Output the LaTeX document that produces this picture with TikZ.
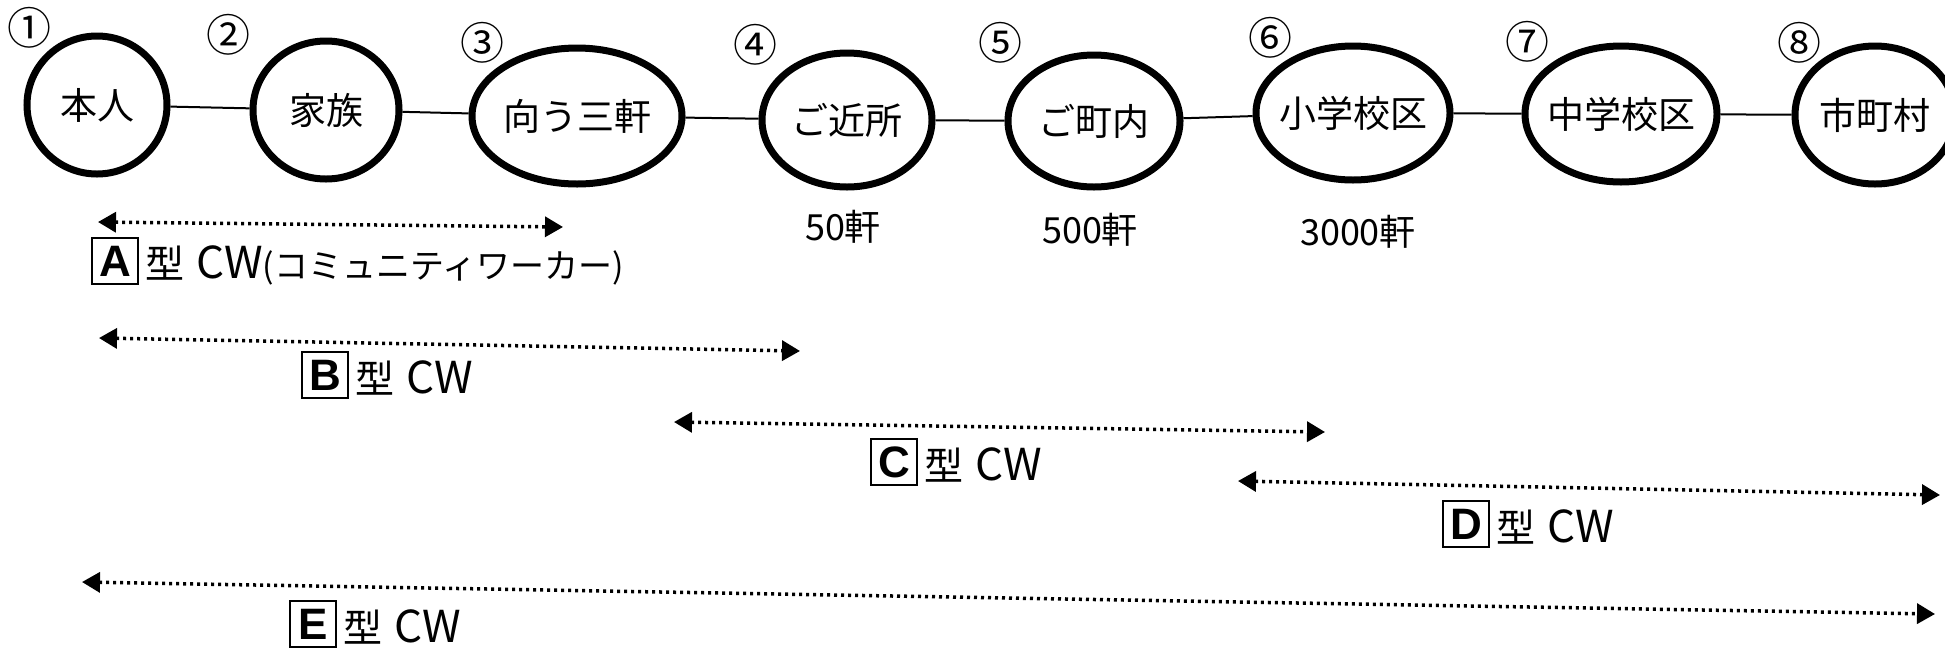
\documentclass[tikz,border=0pt]{standalone}
\usepackage{fontspec}
\setmainfont{Noto Sans CJK JP}
\newfontfamily\latinfont{Liberation Sans}
\usetikzlibrary{shapes.geometric,arrows.meta}
\tikzset{
  place/.style={ellipse, draw, line width=7pt, inner sep=0pt, font=\fontsize{37pt}{40pt}\selectfont},
  num/.style={inner sep=0pt, font=\fontsize{44pt}{46pt}\selectfont},
  link/.style={line width=2pt},
  count/.style={inner sep=0pt, font=\fontsize{36pt}{38pt}\selectfont},
  cwline/.style={line width=3.5pt, dash pattern=on 3pt off 4pt,
    {Triangle[length=18pt,width=20pt]}-{Triangle[length=18pt,width=20pt]}},
  tbox/.style={draw, line width=2pt, minimum width=46pt, minimum height=46pt, inner sep=0pt,
    font=\latinfont\bfseries\fontsize{44pt}{44pt}\selectfont},
  tlabel/.style={anchor=west, inner sep=0pt, font=\fontsize{34pt}{38pt}\selectfont},
}
\newcommand{\katatext}{{\fontsize{39pt}{40pt}\selectfont 型}\hspace{12pt}{\fontsize{44pt}{44pt}\selectfont CW}}
\begin{document}
\begin{tikzpicture}[x=1pt,y=-1pt]
\fill[white] (0,0) rectangle (1945,649);
\useasboundingbox (0,0) rectangle (1945,649);
% places
\node[place, minimum width=140pt, minimum height=138pt] (p1) at (97,105) {\makebox[0pt]{本人}};
\node[place, minimum width=146pt, minimum height=138pt] (p2) at (326,110) {\makebox[0pt]{家族}};
\node[place, minimum width=210pt, minimum height=136pt] (p3) at (577,116) {\makebox[0pt]{向う三軒}};
\node[place, minimum width=170pt, minimum height=134pt] (p4) at (847,120) {\makebox[0pt]{ご近所}};
\node[place, minimum width=172pt, minimum height=132pt] (p5) at (1094,121) {\makebox[0pt]{ご町内}};
\node[place, minimum width=194pt, minimum height=134pt] (p6) at (1353,113) {\makebox[0pt]{小学校区}};
\node[place, minimum width=192pt, minimum height=136pt] (p7) at (1621,114) {\makebox[0pt]{中学校区}};
\node[place, minimum width=160pt, minimum height=138pt] (p8) at (1875,115) {\makebox[0pt]{市町村}};
% links
\draw[link] (p1) -- (p2);
\draw[link] (p2) -- (p3);
\draw[link] (p3) -- (p4);
\draw[link] (p4) -- (p5);
\draw[link] (p5) -- (p6);
\draw[link] (p6) -- (p7);
\draw[link] (p7) -- (p8);
% circled numbers
\node[num] (c1) at (30,28) {①};
\node[num] (c2) at (228,35) {②};
\node[num] (c3) at (482,43) {③};
\node[num] (c4) at (755,45) {④};
\node[num] (c5) at (1000,43) {⑤};
\node[num] (c6) at (1270,38) {⑥};
\node[num] (c7) at (1527,42) {⑦};
\node[num] (c8) at (1799,43) {⑧};
% counts
\node[count] (k4) at (843,227) {50軒};
\node[count] (k5) at (1090,230) {500軒};
\node[count] (k6) at (1358,232) {3000軒};
% ranges
\coordinate (aL) at (98,222);  \coordinate (aR) at (563,227);
\coordinate (bL) at (99,338);  \coordinate (bR) at (800,351);
\coordinate (cL) at (674,422); \coordinate (cR) at (1325,432);
\coordinate (dL) at (1238,481); \coordinate (dR) at (1940,495);
\coordinate (eL) at (82,582);  \coordinate (eR) at (1935,614);
\draw[cwline] (aL) -- (aR);
\draw[cwline] (bL) -- (bR);
\draw[cwline] (cL) -- (cR);
\draw[cwline] (dL) -- (dR);
\draw[cwline] (eL) -- (eR);
% labels
\node[tbox] (ba) at (115,261) {A};
\node[tlabel] (ta) at (145,265) {\katatext(コミュニティワーカー)};
\node[tbox] (bb) at (325,375) {B};
\node[tlabel] (tb) at (355,378) {\katatext};
\node[tbox] (bc) at (894,462) {C};
\node[tlabel] (tc) at (924,465) {\katatext};
\node[tbox] (bd) at (1466,524) {D};
\node[tlabel] (td) at (1496,527) {\katatext};
\node[tbox] (be) at (313,624) {E};
\node[tlabel] (te) at (343,627) {\katatext};
\end{tikzpicture}
\end{document}
